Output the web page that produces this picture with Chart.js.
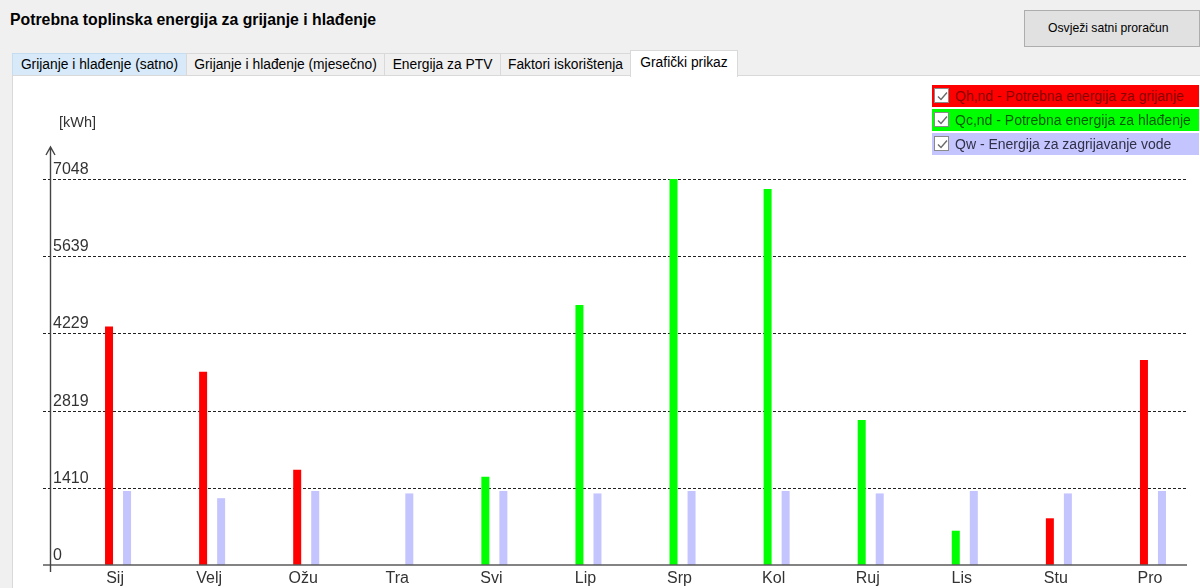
<!DOCTYPE html>
<html lang="hr">
<head>
<meta charset="utf-8">
<title>Potrebna toplinska energija za grijanje i hlađenje</title>
<script src="https://cdn.jsdelivr.net/npm/chart.js@4.4.1/dist/chart.umd.min.js"></script>
<style>
    html, body { margin: 0; padding: 0; }
    body {
        width: 1200px; height: 588px; overflow: hidden; position: relative;
        background: #f0f0f0; color: #000;
        font-family: "Liberation Sans", Arial, sans-serif;
    }
    .naslov { position: absolute; left: 10px; top: 11px; font-size: 15.8px; font-weight: bold; }
    .gumb {
        position: absolute; left: 1024px; top: 10px; width: 176px; height: 37px;
        box-sizing: border-box; background: #e1e1e1; border: 1px solid #adadad;
        font-size: 12.2px; line-height: 35px; padding-left: 23px;
    }
    .tab {
        position: absolute; top: 53px; height: 22px; box-sizing: border-box;
        border: 1px solid #d9d9d9; border-bottom: none; background: #f0f0f0;
        font-size: 13.8px; line-height: 22px; text-align: center; white-space: nowrap;
    }
    .tab.hover { background: #d8eaf9; border-color: #c6dcf0; }
    .tab.aktivan { top: 50px; height: 27px; background: #fff; z-index: 3; line-height: 23px; }
    .ploca {
        position: absolute; left: 12px; top: 75px; right: 0; bottom: 0;
        background: #fff; border-left: 1px solid #d9d9d9; border-top: 1px solid #d9d9d9;
    }
    #graf { position: absolute; left: 0; top: 0; z-index: 2; }
    .legenda { position: absolute; left: 932px; top: 85px; width: 267px; z-index: 4; }
    .legenda .red { position: relative; height: 22px; margin-bottom: 2px; font-size: 14px; line-height: 22px; }
    .legenda .kvadrat {
        position: absolute; left: 2px; top: 3px; width: 15px; height: 15px;
        box-sizing: border-box; background: #fff; border: 1px solid #8a8a8a;
    }
    .legenda .kvadrat svg { position: absolute; left: 1px; top: 1px; }
    .legenda .tekst { position: absolute; left: 23px; top: 0; white-space: nowrap; }
</style>
</head>
<body>
<div class="naslov">Potrebna toplinska energija za grijanje i hlađenje</div>
<div class="gumb">Osvježi satni proračun</div>

<div class="tab hover" style="left:12px;width:175px">Grijanje i hlađenje (satno)</div>
<div class="tab" style="left:186px;width:199px">Grijanje i hlađenje (mjesečno)</div>
<div class="tab" style="left:384px;width:117px">Energija za PTV</div>
<div class="tab" style="left:500px;width:131px">Faktori iskorištenja</div>
<div class="tab aktivan" style="left:630px;width:108px">Grafički prikaz</div>

<div class="ploca"></div>
<canvas id="graf" width="1200" height="588"></canvas>
<div class="legenda" id="legenda"></div>

<script>
// Mjeseci i mjesečne vrijednosti [kWh]
const mjeseci = ['Sij', 'Velj', 'Ožu', 'Tra', 'Svi', 'Lip', 'Srp', 'Kol', 'Ruj', 'Lis', 'Stu', 'Pro'];
const grijanje = [4357, 3530, 1740, null, null, null, null, null, null, null, 853, 3743];
const hladjenje = [null, null, null, null, 1612, 4748, 7048, 6866, 2648, 626, null, null];
const voda = [1351, 1220, 1351, 1307, 1351, 1307, 1351, 1351, 1307, 1351, 1307, 1351];
const yOznake = [0, 1410, 2819, 4229, 5639, 7048];

const serije = [
    { naziv: 'Qh,nd - Potrebna energija za grijanje', boja: '#ff0000', tekst: '#8a0000', podaci: grijanje, stog: 'q' },
    { naziv: 'Qc,nd - Potrebna energija za hlađenje', boja: '#00ff00', tekst: '#005a00', podaci: hladjenje, stog: 'q' },
    { naziv: 'Qw - Energija za zagrijavanje vode', boja: '#c4c4ff', tekst: '#303048', podaci: voda, stog: 'w' }
];

// Legenda s kvačicama
function nacrtajLegendu() {
    const el = document.getElementById('legenda');
    serije.forEach(s => {
        const red = document.createElement('div');
        red.className = 'red';
        red.style.background = s.boja;
        red.innerHTML = `
            <div class="kvadrat"><svg width="13" height="13"><polyline points="2,6.5 5,9.5 11,2.5" fill="none" stroke="#6a6a6a" stroke-width="1.4"/></svg></div>
            <div class="tekst" style="color:${s.tekst}">${s.naziv}</div>`;
        el.appendChild(red);
    });
}

// Osi, isprekidane linije i oznake
const osiPlugin = {
    id: 'osi',
    beforeDatasetsDraw(chart) {
        const { ctx, chartArea, scales: { y } } = chart;
        const lijevo = chartArea.left - 28;
        const desno = chartArea.right - 13;
        ctx.save();
        ctx.strokeStyle = '#222';
        ctx.lineWidth = 1;
        ctx.setLineDash([3, 2]);
        yOznake.forEach(v => {
            if (v === 0) return;
            const py = Math.round(y.getPixelForValue(v)) + 0.5;
            ctx.beginPath();
            ctx.moveTo(lijevo, py);
            ctx.lineTo(desno, py);
            ctx.stroke();
        });
        ctx.restore();
    },
    afterDatasetsDraw(chart) {
        const { ctx, chartArea, scales: { x, y } } = chart;
        const lijevo = chartArea.left - 28;
        const desno = chartArea.right - 13;
        const osX = chartArea.left - 20.5;
        const y0 = Math.round(y.getPixelForValue(0));
        const vrh = chartArea.top - 32;
        ctx.save();

        // x os
        ctx.strokeStyle = '#5a5a5a';
        ctx.lineWidth = 1.6;
        ctx.beginPath();
        ctx.moveTo(lijevo, y0);
        ctx.lineTo(desno, y0);
        ctx.stroke();

        // y os sa strelicom
        ctx.strokeStyle = '#444';
        ctx.lineWidth = 1.4;
        ctx.beginPath();
        ctx.moveTo(osX, y0 + 7);
        ctx.lineTo(osX, vrh);
        ctx.moveTo(osX - 4.5, vrh + 8);
        ctx.lineTo(osX, vrh);
        ctx.lineTo(osX + 4.5, vrh + 8);
        ctx.stroke();

        // oznake na y osi
        ctx.fillStyle = '#333';
        ctx.font = '16px "Liberation Sans", Arial, sans-serif';
        ctx.textAlign = 'left';
        yOznake.forEach(v => {
            const py = Math.round(y.getPixelForValue(v));
            ctx.fillText(String(v), osX + 2.5, py - 5);
        });

        ctx.font = '14.5px "Liberation Sans", Arial, sans-serif';
        ctx.fillText('[kWh]', osX + 8.5, vrh - 20);

        // mjeseci
        ctx.font = '16px "Liberation Sans", Arial, sans-serif';
        ctx.textAlign = 'center';
        mjeseci.forEach((m, i) => {
            ctx.fillText(m, x.getPixelForValue(i) - 3, y0 + 18);
        });
        ctx.restore();
    }
};

function nacrtajGraf() {
    const ctx = document.getElementById('graf').getContext('2d');
    new Chart(ctx, {
        type: 'bar',
        data: {
            labels: mjeseci,
            datasets: serije.map(s => ({
                label: s.naziv,
                data: s.podaci,
                backgroundColor: s.boja,
                stack: s.stog,
                borderWidth: 0,
                categoryPercentage: 0.383,
                barPercentage: 0.444
            }))
        },
        options: {
            responsive: false,
            animation: false,
            layout: { padding: { left: 71, right: 0, top: 179, bottom: 23 } },
            scales: {
                x: { display: false, stacked: true },
                y: {
                    display: false,
                    stacked: true,
                    min: 0,
                    max: yOznake[yOznake.length - 1]
                }
            },
            plugins: {
                legend: { display: false },
                tooltip: { enabled: false }
            }
        },
        plugins: [osiPlugin]
    });
}

document.addEventListener('DOMContentLoaded', () => {
    nacrtajLegendu();
    nacrtajGraf();
});
</script>
</body>
</html>
